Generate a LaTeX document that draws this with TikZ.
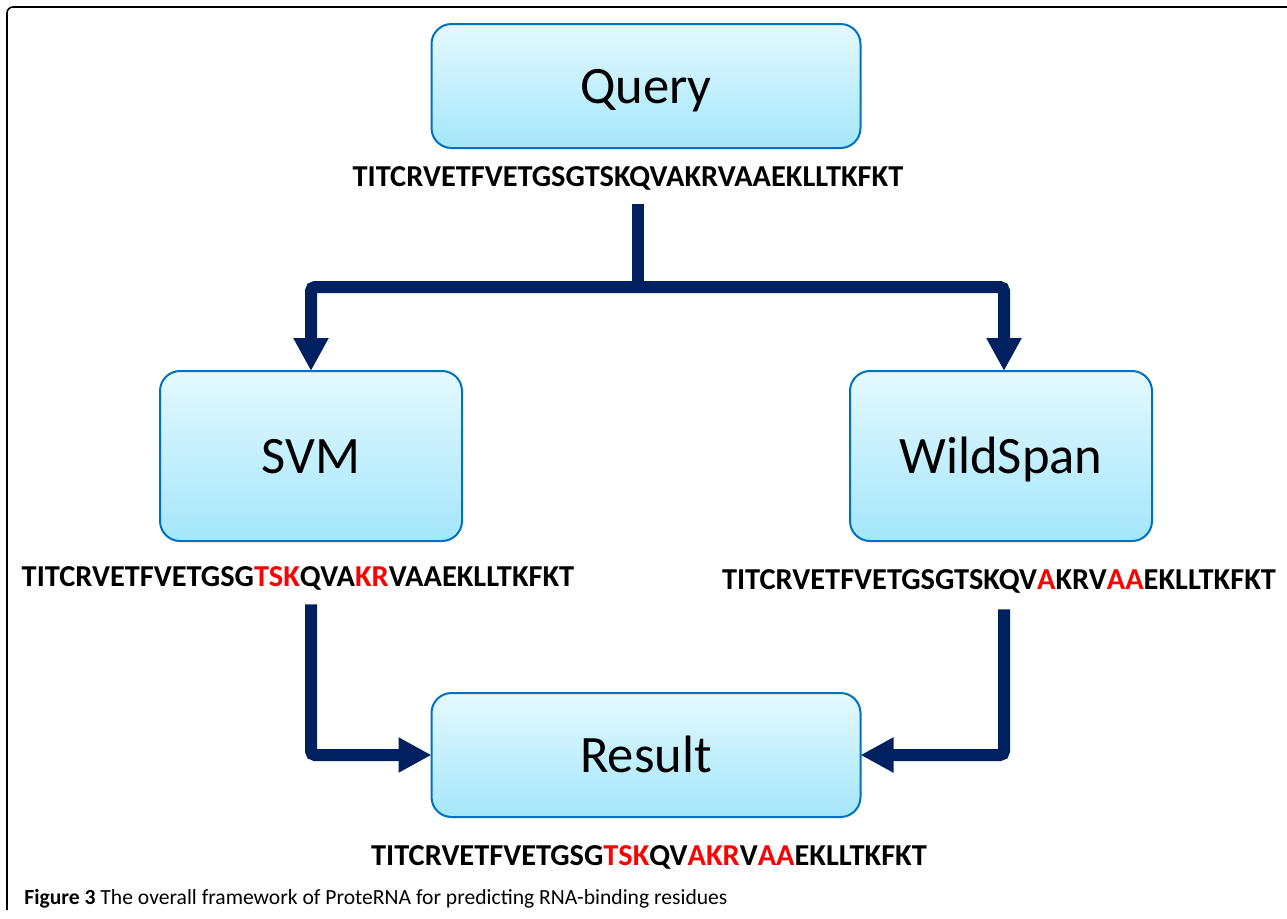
\documentclass[tikz,border=0pt]{standalone}
\usepackage{fontspec}
\setmainfont{Carlito}
\usetikzlibrary{arrows.meta,positioning}
\definecolor{flownavy}{HTML}{002060}
\definecolor{boxedge}{HTML}{0070C0}
\definecolor{boxtop}{HTML}{E4F9FF}
\definecolor{boxbottom}{HTML}{A4E6FA}
\definecolor{hitred}{HTML}{FF0000}
\newcommand{\hit}[1]{\textcolor{hitred}{#1}}
\tikzset{
  stagebox/.style={
    draw=boxedge,
    line width=1pt,
    top color=boxtop,
    bottom color=boxbottom,
    rounded corners=10pt,
    outer sep=0pt,
    align=center,
    text height=17pt,
    text depth=0pt,
    font=\fontsize{26.3}{30}\selectfont
  },
  querybox/.style={stagebox, minimum width=214.5pt, minimum height=62pt},
  toolbox/.style={stagebox, minimum width=151pt, minimum height=85pt},
  seqline/.style={inner sep=0pt, font=\fontsize{15.2}{17}\selectfont\bfseries},
  flowarrow/.style={draw=flownavy, line width=6pt, rounded corners=2pt, -{Triangle[length=16.5pt,width=16.5pt]}},
  flowstem/.style={draw=flownavy, line width=6pt},
  frameline/.style={draw=black, line width=0.8pt, rounded corners=3pt},
  captiontext/.style={anchor=west, inner sep=0pt, font=\fontsize{10.8}{13}\selectfont}
}
\begin{document}
\begin{tikzpicture}[x=0.5pt, y=-0.5pt]
  \useasboundingbox (0,0) rectangle (1287,918);
  \draw[frameline] (7,910) -- (7,7) -- (1287,7);
  % stages
  \node[querybox] (query) at (646,86) {Query};
  \node[toolbox] (svm) at (311,456) {SVM};
  \node[toolbox] (wild) at (1001,456) {WildSpan};
  \node[querybox] (result) at (646,755) {Result};
  % sequences
  \node[seqline] (qseq) at (628,178) {TITCRVETFVETGSGTSKQVAKRVAAEKLLTKFKT};
  \node[seqline] (sseq) at (298,578) {TITCRVETFVETGSG\hit{TSK}QVA\hit{KR}VAAEKLLTKFKT};
  \node[seqline] (wseq) at (999,581) {TITCRVETFVETGSGTSKQV\hit{A}KRV\hit{AA}EKLLTKFKT};
  \node[seqline] (rseq) at (649,857) {TITCRVETFVETGSG\hit{TSK}QV\hit{AKR}V\hit{AA}EKLLTKFKT};
  % connectors
  \coordinate (split) at (638,287);
  \coordinate (wcol) at ([xshift=1.5pt]wild.south);
  \draw[flowstem] ([yshift=-7pt]qseq.south -| split) -- (split);
  \draw[flowarrow] (split) -| (svm.north);
  \draw[flowarrow] (split) -| ([xshift=1.5pt]wild.north);
  \draw[flowarrow] ([yshift=-7pt]sseq.south -| svm.south) |- (result.west);
  \draw[flowarrow] ([yshift=-8pt]wseq.south -| wcol) |- (result.east);
  \node[captiontext] (caption) at (24,899) {\textbf{Figure 3} The overall framework of ProteRNA for predicting RNA-binding residues};
\end{tikzpicture}
\end{document}
